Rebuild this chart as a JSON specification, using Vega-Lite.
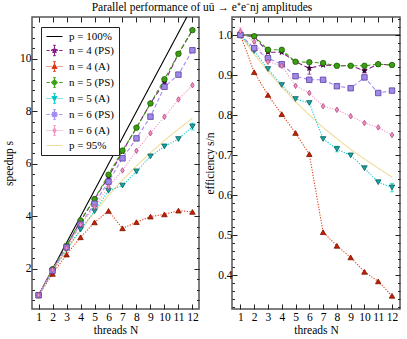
{
  "$schema": "https://vega.github.io/schema/vega-lite/v6.json",
  "padding": {"left": 2, "right": 3, "top": 2, "bottom": 2},
  "title": {"text": "Parallel performance of uū → e⁺e⁻nj amplitudes", "fontSize": 11.5, "fontWeight": "normal", "anchor": "middle", "offset": 2, "color": "#000"},
  "config": {
    "font": "Liberation Serif",
    "view": {"stroke": "#555", "strokeWidth": 1.5},
    "axis": {"labelFontSize": 11.5, "titleFontSize": 11.5, "titleFontWeight": "normal", "labelColor": "#000", "titleColor": "#000", "tickColor": "#222", "grid": false, "domain": false, "labelFlush": false, "labelOverlap": false},
    "legend": {"orient": "none", "legendX": 9, "legendY": 10, "strokeColor": "#222", "fillColor": "#fff", "padding": 4, "labelFontSize": 11, "labelColor": "#000", "rowPadding": 1, "symbolOffset": 4, "labelOffset": 9, "symbolSize": 64, "symbolStrokeWidth": 1, "cornerRadius": 0}
  },
  "spacing": 2,
  "resolve": {"scale": {"color": "independent", "shape": "independent", "fill": "independent", "stroke": "independent", "strokeDash": "independent"}},
  "datasets": {
    "lines": [
      {"N": 1, "series": "p = 100%", "s": 1, "e": 1}, {"N": 2, "series": "p = 100%", "s": 2, "e": 1}, {"N": 3, "series": "p = 100%", "s": 3, "e": 1}, {"N": 4, "series": "p = 100%", "s": 4, "e": 1}, {"N": 5, "series": "p = 100%", "s": 5, "e": 1}, {"N": 6, "series": "p = 100%", "s": 6, "e": 1}, {"N": 7, "series": "p = 100%", "s": 7, "e": 1}, {"N": 8, "series": "p = 100%", "s": 8, "e": 1}, {"N": 9, "series": "p = 100%", "s": 9, "e": 1}, {"N": 10, "series": "p = 100%", "s": 10, "e": 1}, {"N": 11, "series": "p = 100%", "s": 11, "e": 1}, {"N": 12, "series": "p = 100%", "s": 12, "e": 1}, {"N": 13, "series": "p = 100%", "s": 13, "e": 1},
      {"N": 1, "series": "p = 95%", "s": 1, "e": 1}, {"N": 2, "series": "p = 95%", "s": 1.905, "e": 0.952}, {"N": 3, "series": "p = 95%", "s": 2.727, "e": 0.909}, {"N": 4, "series": "p = 95%", "s": 3.478, "e": 0.870}, {"N": 5, "series": "p = 95%", "s": 4.167, "e": 0.833}, {"N": 6, "series": "p = 95%", "s": 4.8, "e": 0.8}, {"N": 7, "series": "p = 95%", "s": 5.385, "e": 0.769}, {"N": 8, "series": "p = 95%", "s": 5.926, "e": 0.741}, {"N": 9, "series": "p = 95%", "s": 6.429, "e": 0.714}, {"N": 10, "series": "p = 95%", "s": 6.897, "e": 0.690}, {"N": 11, "series": "p = 95%", "s": 7.333, "e": 0.667}, {"N": 12, "series": "p = 95%", "s": 7.742, "e": 0.645},
      {"N": 1, "series": "n = 4 (PS)", "s": 1, "e": 1}, {"N": 2, "series": "n = 4 (PS)", "s": 1.992, "e": 0.996}, {"N": 3, "series": "n = 4 (PS)", "s": 2.871, "e": 0.957}, {"N": 4, "series": "n = 4 (PS)", "s": 3.828, "e": 0.957}, {"N": 5, "series": "n = 4 (PS)", "s": 4.665, "e": 0.933}, {"N": 6, "series": "n = 4 (PS)", "s": 5.502, "e": 0.917}, {"N": 7, "series": "n = 4 (PS)", "s": 6.475, "e": 0.925}, {"N": 8, "series": "n = 4 (PS)", "s": 7.384, "e": 0.923}, {"N": 9, "series": "n = 4 (PS)", "s": 8.307, "e": 0.923}, {"N": 10, "series": "n = 4 (PS)", "s": 9.11, "e": 0.911}, {"N": 11, "series": "n = 4 (PS)", "s": 10.197, "e": 0.927}, {"N": 12, "series": "n = 4 (PS)", "s": 11.1, "e": 0.925},
      {"N": 1, "series": "n = 4 (A)", "s": 1, "e": 1}, {"N": 2, "series": "n = 4 (A)", "s": 1.814, "e": 0.907}, {"N": 3, "series": "n = 4 (A)", "s": 2.55, "e": 0.85}, {"N": 4, "series": "n = 4 (A)", "s": 3.208, "e": 0.802}, {"N": 5, "series": "n = 4 (A)", "s": 3.775, "e": 0.755}, {"N": 6, "series": "n = 4 (A)", "s": 4.212, "e": 0.702}, {"N": 7, "series": "n = 4 (A)", "s": 3.549, "e": 0.507}, {"N": 8, "series": "n = 4 (A)", "s": 3.784, "e": 0.473}, {"N": 9, "series": "n = 4 (A)", "s": 3.996, "e": 0.444}, {"N": 10, "series": "n = 4 (A)", "s": 4.08, "e": 0.408}, {"N": 11, "series": "n = 4 (A)", "s": 4.224, "e": 0.384}, {"N": 12, "series": "n = 4 (A)", "s": 4.176, "e": 0.348},
      {"N": 1, "series": "n = 5 (PS)", "s": 1, "e": 1}, {"N": 2, "series": "n = 5 (PS)", "s": 1.994, "e": 0.997}, {"N": 3, "series": "n = 5 (PS)", "s": 2.889, "e": 0.963}, {"N": 4, "series": "n = 5 (PS)", "s": 3.852, "e": 0.963}, {"N": 5, "series": "n = 5 (PS)", "s": 4.665, "e": 0.933}, {"N": 6, "series": "n = 5 (PS)", "s": 5.592, "e": 0.932}, {"N": 7, "series": "n = 5 (PS)", "s": 6.51, "e": 0.930}, {"N": 8, "series": "n = 5 (PS)", "s": 7.384, "e": 0.923}, {"N": 9, "series": "n = 5 (PS)", "s": 8.307, "e": 0.923}, {"N": 10, "series": "n = 5 (PS)", "s": 9.23, "e": 0.923}, {"N": 11, "series": "n = 5 (PS)", "s": 10.197, "e": 0.927}, {"N": 12, "series": "n = 5 (PS)", "s": 11.1, "e": 0.925},
      {"N": 1, "series": "n = 5 (A)", "s": 1, "e": 1}, {"N": 2, "series": "n = 5 (A)", "s": 1.92, "e": 0.96}, {"N": 3, "series": "n = 5 (A)", "s": 2.745, "e": 0.915}, {"N": 4, "series": "n = 5 (A)", "s": 3.5, "e": 0.875}, {"N": 5, "series": "n = 5 (A)", "s": 4.2, "e": 0.84}, {"N": 6, "series": "n = 5 (A)", "s": 4.98, "e": 0.83}, {"N": 7, "series": "n = 5 (A)", "s": 5.18, "e": 0.74}, {"N": 8, "series": "n = 5 (A)", "s": 5.72, "e": 0.715}, {"N": 9, "series": "n = 5 (A)", "s": 6.291, "e": 0.699}, {"N": 10, "series": "n = 5 (A)", "s": 6.67, "e": 0.667}, {"N": 11, "series": "n = 5 (A)", "s": 6.952, "e": 0.632}, {"N": 12, "series": "n = 5 (A)", "s": 7.428, "e": 0.619},
      {"N": 1, "series": "n = 6 (PS)", "s": 1, "e": 1}, {"N": 2, "series": "n = 6 (PS)", "s": 1.934, "e": 0.967}, {"N": 3, "series": "n = 6 (PS)", "s": 2.826, "e": 0.942}, {"N": 4, "series": "n = 6 (PS)", "s": 3.708, "e": 0.927}, {"N": 5, "series": "n = 6 (PS)", "s": 4.485, "e": 0.897}, {"N": 6, "series": "n = 6 (PS)", "s": 5.328, "e": 0.888}, {"N": 7, "series": "n = 6 (PS)", "s": 6.216, "e": 0.888}, {"N": 8, "series": "n = 6 (PS)", "s": 6.976, "e": 0.872}, {"N": 9, "series": "n = 6 (PS)", "s": 7.803, "e": 0.867}, {"N": 10, "series": "n = 6 (PS)", "s": 8.94, "e": 0.894}, {"N": 11, "series": "n = 6 (PS)", "s": 9.405, "e": 0.855}, {"N": 12, "series": "n = 6 (PS)", "s": 10.332, "e": 0.861},
      {"N": 1, "series": "n = 6 (A)", "s": 1.009, "e": 1.009}, {"N": 2, "series": "n = 6 (A)", "s": 1.966, "e": 0.983}, {"N": 3, "series": "n = 6 (A)", "s": 2.799, "e": 0.933}, {"N": 4, "series": "n = 6 (A)", "s": 3.692, "e": 0.923}, {"N": 5, "series": "n = 6 (A)", "s": 4.365, "e": 0.873}, {"N": 6, "series": "n = 6 (A)", "s": 5.13, "e": 0.855}, {"N": 7, "series": "n = 6 (A)", "s": 5.754, "e": 0.822}, {"N": 8, "series": "n = 6 (A)", "s": 6.504, "e": 0.813}, {"N": 9, "series": "n = 6 (A)", "s": 7.173, "e": 0.797}, {"N": 10, "series": "n = 6 (A)", "s": 7.8, "e": 0.78}, {"N": 11, "series": "n = 6 (A)", "s": 8.459, "e": 0.769}, {"N": 12, "series": "n = 6 (A)", "s": 9.0, "e": 0.75}
    ],
    "errs": [
      {"N": 6, "series": "n = 4 (PS)", "e_lo": 0.902, "e_hi": 0.933, "s_lo": 5.41, "s_hi": 5.6},
      {"N": 10, "series": "n = 4 (PS)", "e_lo": 0.905, "e_hi": 0.917, "s_lo": 9.05, "s_hi": 9.17},
      {"N": 12, "series": "n = 5 (A)", "e_lo": 0.608, "e_hi": 0.629, "s_lo": 7.3, "s_hi": 7.55},
      {"N": 8, "series": "n = 5 (A)", "e_lo": 0.708, "e_hi": 0.722, "s_lo": 5.66, "s_hi": 5.78},
      {"N": 1, "series": "n = 6 (A)", "e_lo": 1.0, "e_hi": 1.018, "s_lo": 1.0, "s_hi": 1.018},
      {"N": 3, "series": "n = 5 (PS)", "e_lo": 0.957, "e_hi": 0.969, "s_lo": 2.87, "s_hi": 2.91}
    ]
  },
  "hconcat": [
    {
      "width": 167, "height": 292,
      "resolve": {"axis": {"x": "independent", "y": "independent"}, "scale": {"color": "independent", "shape": "independent", "fill": "independent", "stroke": "independent", "strokeDash": "independent"}},
      "layer": [
        {
          "data": {"name": "lines"},
          "mark": {"type": "line", "clip": true, "strokeWidth": 1.1},
          "encoding": {
            "x": {"field": "N", "type": "quantitative", "scale": {"domain": [0.53, 12.47], "zero": false, "nice": false}, "axis": {"orient": "bottom", "values": [1,2,3,4,5,6,7,8,9,10,11,12], "title": "threads N", "tickSize": -5, "labelPadding": 7, "titlePadding": 2}},
            "y": {"field": "s", "type": "quantitative", "scale": {"domain": [0.476, 11.6], "zero": false, "nice": false}, "axis": {"orient": "left", "values": [2,4,6,8,10], "title": "speedup s", "tickSize": -5, "labelPadding": 6, "titlePadding": 5}},
            "color": {"field": "series", "type": "nominal", "scale": {"domain": ["p = 100%", "n = 4 (PS)", "n = 4 (A)", "n = 5 (PS)", "n = 5 (A)", "n = 6 (PS)", "n = 6 (A)", "p = 95%"], "range": ["#000000", "#8a1c8a", "#e2401e", "#3ca014", "#10cccc", "#a48cf4", "#f598c8", "#f2dc9a"]}, "legend": null},
            "strokeDash": {"field": "series", "type": "nominal", "scale": {"domain": ["p = 100%", "n = 4 (PS)", "n = 4 (A)", "n = 5 (PS)", "n = 5 (A)", "n = 6 (PS)", "n = 6 (A)", "p = 95%"], "range": [[1,0],[5,2.5],[1.2,1.5],[4,2.5],[1.2,1.5],[4,2.5],[1.2,1.5],[1,0]]}, "legend": null}
          }
        },
        {
          "data": {"name": "errs"},
          "mark": {"type": "rule", "strokeWidth": 1},
          "encoding": {
            "x": {"field": "N", "type": "quantitative", "scale": {"domain": [0.53, 12.47], "zero": false, "nice": false}, "axis": {"orient": "top", "values": [1,2,3,4,5,6,7,8,9,10,11,12], "labels": false, "title": null, "tickSize": -5}},
            "y": {"field": "s_lo", "type": "quantitative", "scale": {"domain": [0.476, 11.6], "zero": false, "nice": false}, "axis": {"orient": "left", "values": [0.8,1.2,1.6,2,2.4,2.8,3.2,3.6,4,4.4,4.8,5.2,5.6,6,6.4,6.8,7.2,7.6,8,8.4,8.8,9.2,9.6,10,10.4,10.8,11.2], "labels": false, "title": null, "tickSize": -2.5}},
            "y2": {"field": "s_hi"},
            "color": {"field": "series", "type": "nominal", "scale": {"domain": ["p = 100%", "n = 4 (PS)", "n = 4 (A)", "n = 5 (PS)", "n = 5 (A)", "n = 6 (PS)", "n = 6 (A)", "p = 95%"], "range": ["#000000", "#8a1c8a", "#e2401e", "#3ca014", "#10cccc", "#a48cf4", "#f598c8", "#f2dc9a"]}, "legend": null}
          }
        },
        {
          "data": {"name": "errs"},
          "mark": {"type": "tick", "orient": "horizontal", "size": 4, "thickness": 1},
          "encoding": {
            "x": {"field": "N", "type": "quantitative", "scale": {"domain": [0.53, 12.47], "zero": false, "nice": false}, "axis": null},
            "y": {"field": "s_lo", "type": "quantitative", "scale": {"domain": [0.476, 11.6], "zero": false, "nice": false}, "axis": {"orient": "right", "values": [2,4,6,8,10], "labels": false, "title": null, "tickSize": -5}},
            "color": {"field": "series", "type": "nominal", "scale": {"domain": ["p = 100%", "n = 4 (PS)", "n = 4 (A)", "n = 5 (PS)", "n = 5 (A)", "n = 6 (PS)", "n = 6 (A)", "p = 95%"], "range": ["#000000", "#8a1c8a", "#e2401e", "#3ca014", "#10cccc", "#a48cf4", "#f598c8", "#f2dc9a"]}, "legend": null}
          }
        },
        {
          "data": {"name": "errs"},
          "mark": {"type": "tick", "orient": "horizontal", "size": 4, "thickness": 1},
          "encoding": {
            "x": {"field": "N", "type": "quantitative", "scale": {"domain": [0.53, 12.47], "zero": false, "nice": false}, "axis": null},
            "y": {"field": "s_hi", "type": "quantitative", "scale": {"domain": [0.476, 11.6], "zero": false, "nice": false}, "axis": {"orient": "right", "values": [0.8,1.2,1.6,2,2.4,2.8,3.2,3.6,4,4.4,4.8,5.2,5.6,6,6.4,6.8,7.2,7.6,8,8.4,8.8,9.2,9.6,10,10.4,10.8,11.2], "labels": false, "title": null, "tickSize": -2.5}},
            "color": {"field": "series", "type": "nominal", "scale": {"domain": ["p = 100%", "n = 4 (PS)", "n = 4 (A)", "n = 5 (PS)", "n = 5 (A)", "n = 6 (PS)", "n = 6 (A)", "p = 95%"], "range": ["#000000", "#8a1c8a", "#e2401e", "#3ca014", "#10cccc", "#a48cf4", "#f598c8", "#f2dc9a"]}, "legend": null}
          }
        },
        {
          "data": {"name": "lines"},
          "transform": [{"filter": {"field": "series", "oneOf": ["n = 4 (PS)", "n = 4 (A)", "n = 5 (PS)", "n = 5 (A)", "n = 6 (PS)", "n = 6 (A)"]}}],
          "mark": {"type": "point", "filled": true, "opacity": 1, "size": 30, "strokeWidth": 0.8},
          "encoding": {
            "x": {"field": "N", "type": "quantitative", "scale": {"domain": [0.53, 12.47], "zero": false, "nice": false}, "axis": null},
            "y": {"field": "s", "type": "quantitative", "scale": {"domain": [0.476, 11.6], "zero": false, "nice": false}, "axis": null},
            "shape": {"field": "series", "type": "nominal", "scale": {"domain": ["n = 4 (PS)", "n = 4 (A)", "n = 5 (PS)", "n = 5 (A)", "n = 6 (PS)", "n = 6 (A)"], "range": ["M0,-1L0.24,-0.33L0.95,-0.31L0.39,0.12L0.59,0.81L0,0.4L-0.59,0.81L-0.39,0.12L-0.95,-0.31L-0.24,-0.33Z", "triangle-up", "circle", "triangle-down", "square", "M0,-1L0.65,0L0,1L-0.65,0Z"]}, "legend": null},
            "fill": {"field": "series", "type": "nominal", "scale": {"domain": ["n = 4 (PS)", "n = 4 (A)", "n = 5 (PS)", "n = 5 (A)", "n = 6 (PS)", "n = 6 (A)"], "range": ["#3c003c", "#c81e00", "#3c9e12", "#14a5a5", "#a08ae8", "#f38ec6"]}, "legend": null},
            "stroke": {"field": "series", "type": "nominal", "scale": {"domain": ["n = 4 (PS)", "n = 4 (A)", "n = 5 (PS)", "n = 5 (A)", "n = 6 (PS)", "n = 6 (A)"], "range": ["#2a002a", "#7a1400", "#1e5c06", "#0a5c5c", "#5a3ea0", "#a84a7c"]}, "legend": null}
          }
        },
        {
          "data": {"name": "lines"},
          "transform": [{"filter": {"field": "N", "lt": 0}}],
          "mark": {"type": "point", "filled": true, "opacity": 1, "size": 64, "strokeWidth": 1},
          "encoding": {
            "x": {"field": "N", "type": "quantitative", "scale": {"domain": [0.53, 12.47], "zero": false, "nice": false}, "axis": null},
            "y": {"field": "s", "type": "quantitative", "scale": {"domain": [0.476, 11.6], "zero": false, "nice": false}, "axis": null},
            "shape": {"field": "series", "type": "nominal", "scale": {"domain": ["p = 100%", "n = 4 (PS)", "n = 4 (A)", "n = 5 (PS)", "n = 5 (A)", "n = 6 (PS)", "n = 6 (A)", "p = 95%"], "range": [
              "M-2,0H2",
              "M-2,0H-1.2M-0.85,0H-0.6M0.6,0H0.85M1.2,0H2M0,-1.3V1.3M-0.35,-1.3H0.35M-0.35,1.3H0.35M0,-0.75L0.18,-0.25L0.7,-0.23L0.29,0.09L0.44,0.6L0,0.3L-0.44,0.6L-0.29,0.09L-0.7,-0.23L-0.18,-0.25Z",
              "M-2,0H-1.75M-1.5,0H-1.25M-1,0H-0.75M0.75,0H1M1.25,0H1.5M1.75,0H2M0,-1.2V1.2M-0.35,-1.2H0.35M-0.35,1.2H0.35M0,-0.65L0.65,0.5L-0.65,0.5Z",
              "M-2,0H-1.2M-0.85,0H-0.6M0.6,0H0.85M1.2,0H2M0,-1.2V1.2M-0.35,-1.2H0.35M-0.35,1.2H0.35M0.6,0A0.6,0.6,0,1,1,-0.6,0A0.6,0.6,0,1,1,0.6,0Z",
              "M-2,0H-1.75M-1.5,0H-1.25M-1,0H-0.75M0.75,0H1M1.25,0H1.5M1.75,0H2M0,-1.2V1.2M-0.35,-1.2H0.35M-0.35,1.2H0.35M0,0.65L0.65,-0.5L-0.65,-0.5Z",
              "M-2,0H-1.2M-0.85,0H-0.6M0.6,0H0.85M1.2,0H2M0,-1.2V1.2M-0.35,-1.2H0.35M-0.35,1.2H0.35M-0.55,-0.55H0.55V0.55H-0.55Z",
              "M-2,0H-1.75M-1.5,0H-1.25M-1,0H-0.75M0.75,0H1M1.25,0H1.5M1.75,0H2M0,-1.2V1.2M-0.35,-1.2H0.35M-0.35,1.2H0.35M0,-0.7L0.45,0L0,0.7L-0.45,0Z",
              "M-2,0H2"
            ]}, "legend": {"title": null}},
            "fill": {"field": "series", "type": "nominal", "scale": {"domain": ["p = 100%", "n = 4 (PS)", "n = 4 (A)", "n = 5 (PS)", "n = 5 (A)", "n = 6 (PS)", "n = 6 (A)", "p = 95%"], "range": ["#000000", "#3c003c", "#c81e00", "#3c9e12", "#14a5a5", "#a08ae8", "#f38ec6", "#f2dc9a"]}, "legend": {"title": null}},
            "stroke": {"field": "series", "type": "nominal", "scale": {"domain": ["p = 100%", "n = 4 (PS)", "n = 4 (A)", "n = 5 (PS)", "n = 5 (A)", "n = 6 (PS)", "n = 6 (A)", "p = 95%"], "range": ["#000000", "#8a1c8a", "#e2401e", "#3ca014", "#10cccc", "#a48cf4", "#f598c8", "#f2dc9a"]}, "legend": {"title": null}}
          }
        }
      ]
    },
    {
      "width": 168, "height": 292,
      "resolve": {"axis": {"x": "independent", "y": "independent"}, "scale": {"color": "independent", "shape": "independent", "fill": "independent", "stroke": "independent", "strokeDash": "independent"}},
      "layer": [
        {
          "data": {"name": "lines"},
          "mark": {"type": "line", "clip": true, "strokeWidth": 1.1},
          "encoding": {
            "x": {"field": "N", "type": "quantitative", "scale": {"domain": [0.39, 12.58], "zero": false, "nice": false}, "axis": {"orient": "bottom", "values": [1,2,3,4,5,6,7,8,9,10,11,12], "title": "threads N", "tickSize": -5, "labelPadding": 7, "titlePadding": 2}},
            "y": {"field": "e", "type": "quantitative", "scale": {"domain": [0.315, 1.045], "zero": false, "nice": false}, "axis": {"orient": "left", "values": [0.4,0.5,0.6,0.7,0.8,0.9,1.0], "format": ".1f", "title": "efficiency s/n", "tickSize": -5, "labelPadding": 5, "titlePadding": 2}},
            "color": {"field": "series", "type": "nominal", "scale": {"domain": ["p = 100%", "n = 4 (PS)", "n = 4 (A)", "n = 5 (PS)", "n = 5 (A)", "n = 6 (PS)", "n = 6 (A)", "p = 95%"], "range": ["#000000", "#8a1c8a", "#e2401e", "#3ca014", "#10cccc", "#a48cf4", "#f598c8", "#f2dc9a"]}, "legend": null},
            "strokeDash": {"field": "series", "type": "nominal", "scale": {"domain": ["p = 100%", "n = 4 (PS)", "n = 4 (A)", "n = 5 (PS)", "n = 5 (A)", "n = 6 (PS)", "n = 6 (A)", "p = 95%"], "range": [[1,0],[5,2.5],[1.2,1.5],[4,2.5],[1.2,1.5],[4,2.5],[1.2,1.5],[1,0]]}, "legend": null}
          }
        },
        {
          "data": {"name": "errs"},
          "mark": {"type": "rule", "strokeWidth": 1},
          "encoding": {
            "x": {"field": "N", "type": "quantitative", "scale": {"domain": [0.39, 12.58], "zero": false, "nice": false}, "axis": {"orient": "top", "values": [1,2,3,4,5,6,7,8,9,10,11,12], "labels": false, "title": null, "tickSize": -5}},
            "y": {"field": "e_lo", "type": "quantitative", "scale": {"domain": [0.315, 1.045], "zero": false, "nice": false}, "axis": {"orient": "left", "values": [0.32,0.34,0.36,0.38,0.42,0.44,0.46,0.48,0.52,0.54,0.56,0.58,0.62,0.64,0.66,0.68,0.72,0.74,0.76,0.78,0.82,0.84,0.86,0.88,0.92,0.94,0.96,0.98,1.02,1.04], "labels": false, "title": null, "tickSize": -2.5}},
            "y2": {"field": "e_hi"},
            "color": {"field": "series", "type": "nominal", "scale": {"domain": ["p = 100%", "n = 4 (PS)", "n = 4 (A)", "n = 5 (PS)", "n = 5 (A)", "n = 6 (PS)", "n = 6 (A)", "p = 95%"], "range": ["#000000", "#8a1c8a", "#e2401e", "#3ca014", "#10cccc", "#a48cf4", "#f598c8", "#f2dc9a"]}, "legend": null}
          }
        },
        {
          "data": {"name": "errs"},
          "mark": {"type": "tick", "orient": "horizontal", "size": 4, "thickness": 1},
          "encoding": {
            "x": {"field": "N", "type": "quantitative", "scale": {"domain": [0.39, 12.58], "zero": false, "nice": false}, "axis": null},
            "y": {"field": "e_lo", "type": "quantitative", "scale": {"domain": [0.315, 1.045], "zero": false, "nice": false}, "axis": {"orient": "right", "values": [0.4,0.5,0.6,0.7,0.8,0.9,1.0], "labels": false, "title": null, "tickSize": -5}},
            "color": {"field": "series", "type": "nominal", "scale": {"domain": ["p = 100%", "n = 4 (PS)", "n = 4 (A)", "n = 5 (PS)", "n = 5 (A)", "n = 6 (PS)", "n = 6 (A)", "p = 95%"], "range": ["#000000", "#8a1c8a", "#e2401e", "#3ca014", "#10cccc", "#a48cf4", "#f598c8", "#f2dc9a"]}, "legend": null}
          }
        },
        {
          "data": {"name": "errs"},
          "mark": {"type": "tick", "orient": "horizontal", "size": 4, "thickness": 1},
          "encoding": {
            "x": {"field": "N", "type": "quantitative", "scale": {"domain": [0.39, 12.58], "zero": false, "nice": false}, "axis": null},
            "y": {"field": "e_hi", "type": "quantitative", "scale": {"domain": [0.315, 1.045], "zero": false, "nice": false}, "axis": {"orient": "right", "values": [0.32,0.34,0.36,0.38,0.42,0.44,0.46,0.48,0.52,0.54,0.56,0.58,0.62,0.64,0.66,0.68,0.72,0.74,0.76,0.78,0.82,0.84,0.86,0.88,0.92,0.94,0.96,0.98,1.02,1.04], "labels": false, "title": null, "tickSize": -2.5}},
            "color": {"field": "series", "type": "nominal", "scale": {"domain": ["p = 100%", "n = 4 (PS)", "n = 4 (A)", "n = 5 (PS)", "n = 5 (A)", "n = 6 (PS)", "n = 6 (A)", "p = 95%"], "range": ["#000000", "#8a1c8a", "#e2401e", "#3ca014", "#10cccc", "#a48cf4", "#f598c8", "#f2dc9a"]}, "legend": null}
          }
        },
        {
          "data": {"name": "lines"},
          "transform": [{"filter": {"field": "series", "oneOf": ["n = 4 (PS)", "n = 4 (A)", "n = 5 (PS)", "n = 5 (A)", "n = 6 (PS)", "n = 6 (A)"]}}],
          "mark": {"type": "point", "filled": true, "opacity": 1, "size": 30, "strokeWidth": 0.8},
          "encoding": {
            "x": {"field": "N", "type": "quantitative", "scale": {"domain": [0.39, 12.58], "zero": false, "nice": false}, "axis": null},
            "y": {"field": "e", "type": "quantitative", "scale": {"domain": [0.315, 1.045], "zero": false, "nice": false}, "axis": null},
            "shape": {"field": "series", "type": "nominal", "scale": {"domain": ["n = 4 (PS)", "n = 4 (A)", "n = 5 (PS)", "n = 5 (A)", "n = 6 (PS)", "n = 6 (A)"], "range": ["M0,-1L0.24,-0.33L0.95,-0.31L0.39,0.12L0.59,0.81L0,0.4L-0.59,0.81L-0.39,0.12L-0.95,-0.31L-0.24,-0.33Z", "triangle-up", "circle", "triangle-down", "square", "M0,-1L0.65,0L0,1L-0.65,0Z"]}, "legend": null},
            "fill": {"field": "series", "type": "nominal", "scale": {"domain": ["n = 4 (PS)", "n = 4 (A)", "n = 5 (PS)", "n = 5 (A)", "n = 6 (PS)", "n = 6 (A)"], "range": ["#3c003c", "#c81e00", "#3c9e12", "#14a5a5", "#a08ae8", "#f38ec6"]}, "legend": null},
            "stroke": {"field": "series", "type": "nominal", "scale": {"domain": ["n = 4 (PS)", "n = 4 (A)", "n = 5 (PS)", "n = 5 (A)", "n = 6 (PS)", "n = 6 (A)"], "range": ["#2a002a", "#7a1400", "#1e5c06", "#0a5c5c", "#5a3ea0", "#a84a7c"]}, "legend": null}
          }
        }
      ]
    }
  ]
}
